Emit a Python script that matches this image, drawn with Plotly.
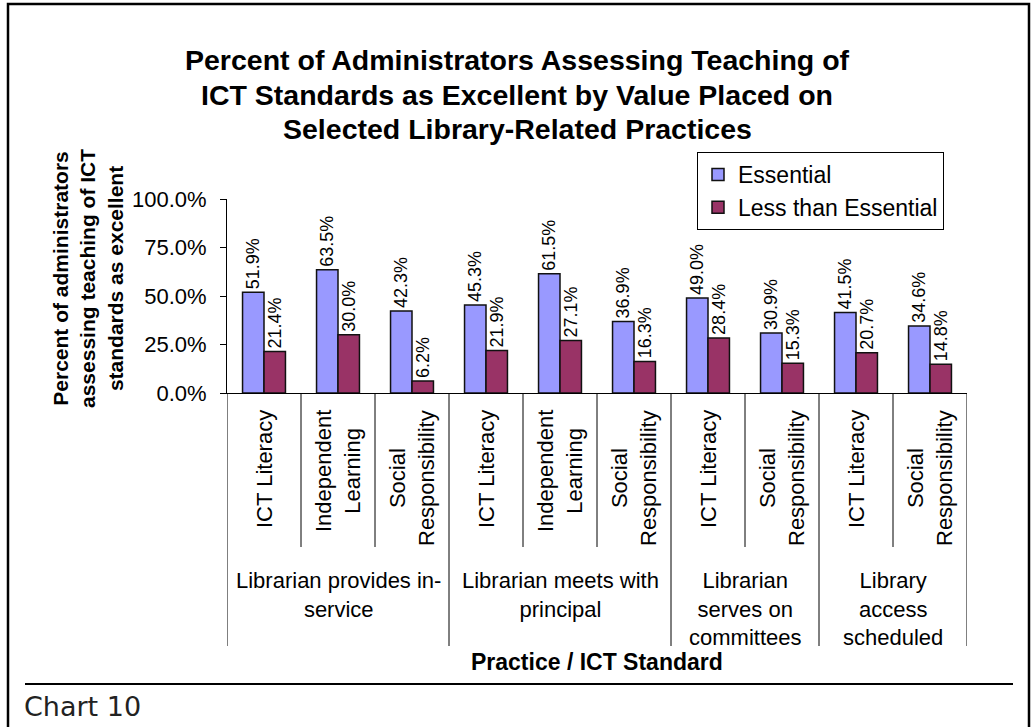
import plotly.graph_objects as go

# ---- data ----
title_lines = [
    "Percent of Administrators Assessing Teaching of",
    "ICT Standards as Excellent by Value Placed on",
    "Selected Library-Related Practices",
]
practices = [
    "Librarian provides in-<br>service",
    "Librarian meets with<br>principal",
    "Librarian<br>serves on<br>committees",
    "Library<br>access<br>scheduled",
]
standards = [
    ["ICT Literacy", "Independent<br>Learning", "Social<br>Responsibility"],
    ["ICT Literacy", "Independent<br>Learning", "Social<br>Responsibility"],
    ["ICT Literacy", "Social<br>Responsibility"],
    ["ICT Literacy", "Social<br>Responsibility"],
]
essential = [51.9, 63.5, 42.3, 45.3, 61.5, 36.9, 49.0, 30.9, 41.5, 34.6]
less_than_essential = [21.4, 30.0, 6.2, 21.9, 27.1, 16.3, 28.4, 15.3, 20.7, 14.8]
y_ticks = [0, 25, 50, 75, 100]

# ---- page geometry (pixels) ----
W, H = 1034, 727
PL, PR, PT, PB = 227, 967, 199, 393  # plot area edges


def px_x(px):
    return (px - PL) / (PR - PL)


def px_y(py):
    return (PB - py) / (PB - PT)


FONT = "Liberation Sans, Arial, sans-serif"

labels_flat = [s for grp in standards for s in grp]
x_pos = [i + 0.5 for i in range(len(labels_flat))]

fig = go.Figure()
fig.add_trace(go.Bar(
    x=x_pos, y=essential, name="Essential",
    marker=dict(color="#9999FF", line=dict(color="#111111", width=1.5)),
    texttemplate="%{y:.1f}%", textposition="outside", textangle=-90,
    textfont=dict(size=18, color="black", family=FONT),
    constraintext="none", cliponaxis=False,
))
fig.add_trace(go.Bar(
    x=x_pos, y=less_than_essential, name="Less than Essential",
    marker=dict(color="#993366", line=dict(color="#111111", width=1.5)),
    texttemplate="%{y:.1f}%", textposition="outside", textangle=-90,
    textfont=dict(size=18, color="black", family=FONT),
    constraintext="none", cliponaxis=False,
))

shapes = []
annotations = []

# chart title, one line per annotation
for py, line in zip([60, 95, 129], title_lines):
    annotations.append(dict(
        x=px_x(W / 2), y=px_y(py), xref="paper", yref="paper",
        text=f"<b>{line}</b>", showarrow=False,
        xanchor="center", yanchor="middle",
        font=dict(size=28.5, color="black", family=FONT),
    ))

# category dividers below the axis: short inside a practice, long between practices
bounds = [0]
for grp in standards:
    bounds.append(bounds[-1] + len(grp))
group_edges = set(bounds)
for b in range(0, len(labels_flat) + 1):
    long_line = b in group_edges
    shapes.append(dict(
        type="line", xref="x", yref="paper", x0=b, x1=b,
        y0=0, y1=px_y(646 if long_line else 547),
        line=dict(color="black", width=1),
    ))

# rotated standard labels
for xp, lab in zip(x_pos, labels_flat):
    annotations.append(dict(
        x=xp, y=px_y(408), xref="x", yref="paper", text=lab,
        textangle=-90, showarrow=False, xanchor="center", yanchor="top",
        align="center", font=dict(size=22, color="black", family=FONT),
    ))

# practice labels
for gi, prac in enumerate(practices):
    annotations.append(dict(
        x=(bounds[gi] + bounds[gi + 1]) / 2, y=px_y(566), xref="x", yref="paper",
        text=prac, showarrow=False, xanchor="center", yanchor="top",
        align="center", font=dict(size=22, color="black", family=FONT),
    ))

# axis titles
annotations.append(dict(
    x=px_x(88), y=px_y(279), xref="paper", yref="paper",
    text="<b>Percent of administrators<br>assessing teaching of ICT<br>standards as excellent</b>",
    textangle=-90, showarrow=False, xanchor="center", yanchor="middle",
    align="center", font=dict(size=21, color="black", family=FONT),
))
annotations.append(dict(
    x=0.5, y=px_y(662), xref="paper", yref="paper",
    text="<b>Practice / ICT Standard</b>", showarrow=False,
    xanchor="center", yanchor="middle",
    font=dict(size=23, color="black", family=FONT),
))

# caption
annotations.append(dict(
    x=px_x(22), y=px_y(706), xref="paper", yref="paper", text="Chart 10",
    showarrow=False, xanchor="left", yanchor="middle",
    font=dict(size=27, color="#222222", family="DejaVu Sans, Verdana, sans-serif"),
))

# outer frame and caption rule
shapes.append(dict(
    type="rect", xref="paper", yref="paper",
    x0=px_x(8), x1=px_x(1029), y0=px_y(760), y1=px_y(4),
    line=dict(color="black", width=2.5), layer="below",
))
shapes.append(dict(
    type="line", xref="paper", yref="paper",
    x0=px_x(25), x1=px_x(1013), y0=px_y(684), y1=px_y(684),
    line=dict(color="black", width=2),
))

fig.update_layout(
    width=W, height=H,
    margin=dict(l=PL, r=W - PR, t=PT, b=H - PB, autoexpand=False),
    paper_bgcolor="white", plot_bgcolor="white",
    font=dict(family=FONT, color="black"),
    barmode="group", bargap=0.42, bargroupgap=0,
    xaxis=dict(
        range=[0, len(labels_flat)], showticklabels=False, ticks="",
        showgrid=False, zeroline=False, showline=True,
        linecolor="black", linewidth=1, fixedrange=True,
    ),
    yaxis=dict(
        range=[0, 100], tickvals=y_ticks,
        ticktext=[f"{v:.1f}%" for v in y_ticks],
        ticks="outside", ticklen=6, tickcolor="black", tickwidth=1,
        ticklabelstandoff=9,
        tickfont=dict(size=22, color="black", family=FONT),
        showgrid=False, zeroline=False, showline=True,
        linecolor="black", linewidth=1, fixedrange=True,
    ),
    legend=dict(
        x=px_x(697), y=px_y(152), xanchor="left", yanchor="top",
        xref="paper", yref="paper",
        bordercolor="black", borderwidth=1, bgcolor="white",
        font=dict(size=23, color="black", family=FONT),
        itemwidth=30, tracegroupgap=0,
    ),
    shapes=shapes, annotations=annotations,
)

fig.write_html("out.html")
